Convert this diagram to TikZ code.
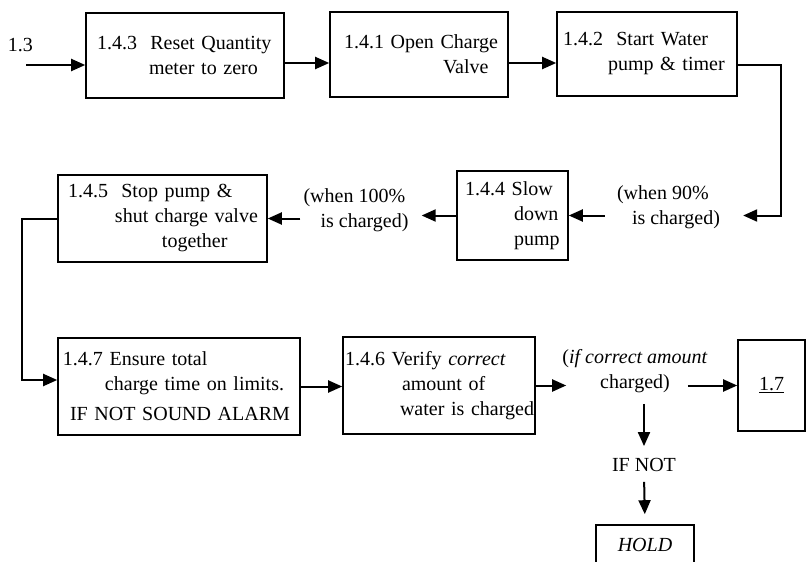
\documentclass[tikz,border=0pt]{standalone}
\usepackage{fontspec}
\setmainfont{Liberation Serif}
\usetikzlibrary{arrows.meta,positioning,calc}
\begin{document}
\begin{tikzpicture}[x=1pt,y=-1pt,font=\fontsize{20}{25}\selectfont, >={Triangle[length=14pt,width=12pt]},
 box/.style={draw,line width=1.6pt,inner sep=0pt,align=left},
 note/.style={inner sep=3pt,align=left},
 line/.style={->,line width=2pt}]
\useasboundingbox (0,0) rectangle (807,562);
\node[note] (from) at (20.5,45) {1.3};
\coordinate (start) at (26,65);
\node[box,text width=198pt,minimum height=85pt] (reset) at (185,55.5) {\hspace*{11pt}1.4.3\ \ Reset Quantity\\\hspace*{63pt}meter to zero};
\node[box,text width=178pt,minimum height=85pt] (open) at (419,54.5) {\hspace*{14pt}1.4.1 Open Charge\\\hspace*{113pt}Valve};
\node[box,text width=180pt,minimum height=84pt] (pump) at (647,54) {\hspace*{6pt}1.4.2\ \ Start Water\\\hspace*{51pt}pump \& timer};
\node[box,text width=111pt,minimum height=89pt] (slow) at (512.5,215.5) {\hspace*{8pt}1.4.4 Slow\\\hspace*{57pt}down\\\hspace*{57pt}pump};
\node[box,text width=209pt,minimum height=87pt] (stop) at (162.5,218.5) {\hspace*{10pt}1.4.5\ \ Stop pump \&\\\hspace*{57pt}shut charge valve\\\hspace*{104pt}together};
\node[box,text width=242pt,minimum height=97pt] (ensure) at (179,386.5) {\hspace*{5pt}1.4.7 Ensure total\\\hspace*{47pt}charge time on limits.\\[5pt]\hspace*{12pt}IF NOT SOUND ALARM};
\node[box,text width=192pt,minimum height=97pt] (verify) at (439,385.5) {\hspace*{2pt}1.4.6 Verify \textit{correct}\\\hspace*{59pt}amount of\\\hspace*{57pt}water is charged};
\node[box,text width=67pt,minimum height=91pt,align=center] (next) at (771.5,385.5) {\underline{1.7}};
\node[box,text width=98pt,minimum height=40pt,align=center] (hold) at (645,545) {\textit{HOLD}};
\node[note] (w90) at (668.5,207) {(when 90\%\\\hspace*{15pt}is charged)};
\node[note] (w100) at (356,210) {(when 100\%\\\hspace*{17pt}is charged)};
\node[note,align=center] (ifc) at (635,371) {(\textit{if correct amount}\\charged)};
\node[note] (ifnot) at (644,465) {IF NOT};
\draw[line] (start) -- (start -| reset.west);
\draw[line] ([yshift=-7.5pt]reset.east) -- ([yshift=-7.5pt]reset.east -| open.west);
\draw[line] ([yshift=-8.5pt]open.east) -- ([yshift=-8.5pt]open.east -| pump.west);
\draw[line] ([yshift=-11pt]pump.east) -- ++(43pt,0) |- ([xshift=20pt]w90.east |- slow.east);
\draw[line] ([xshift=-9pt]w90.west |- slow.east) -- (slow.east);
\draw[line] (slow.west) -- ([xshift=10pt]w100.east |- slow.west);
\draw[line] (w100.west |- stop.east) -- (stop.east);
\draw[line] (stop.west) -- ++(-35pt,0) |- ([yshift=6.5pt]ensure.west);
\draw[line] (ensure.east) -- (ensure.east -| verify.west);
\draw[line] (verify.east) -- ([xshift=7pt]ifc.west |- verify.east);
\draw[line] ([xshift=-23pt]ifc.east |- next.west) -- (next.west);
\draw[line,shorten <=8pt,shorten >=9pt] (ifc.south -| ifnot.north) -- (ifnot.north);
\draw[line,shorten <=7pt,shorten >=10pt] (ifnot.south) -- (hold.north);
\end{tikzpicture}
\end{document}
